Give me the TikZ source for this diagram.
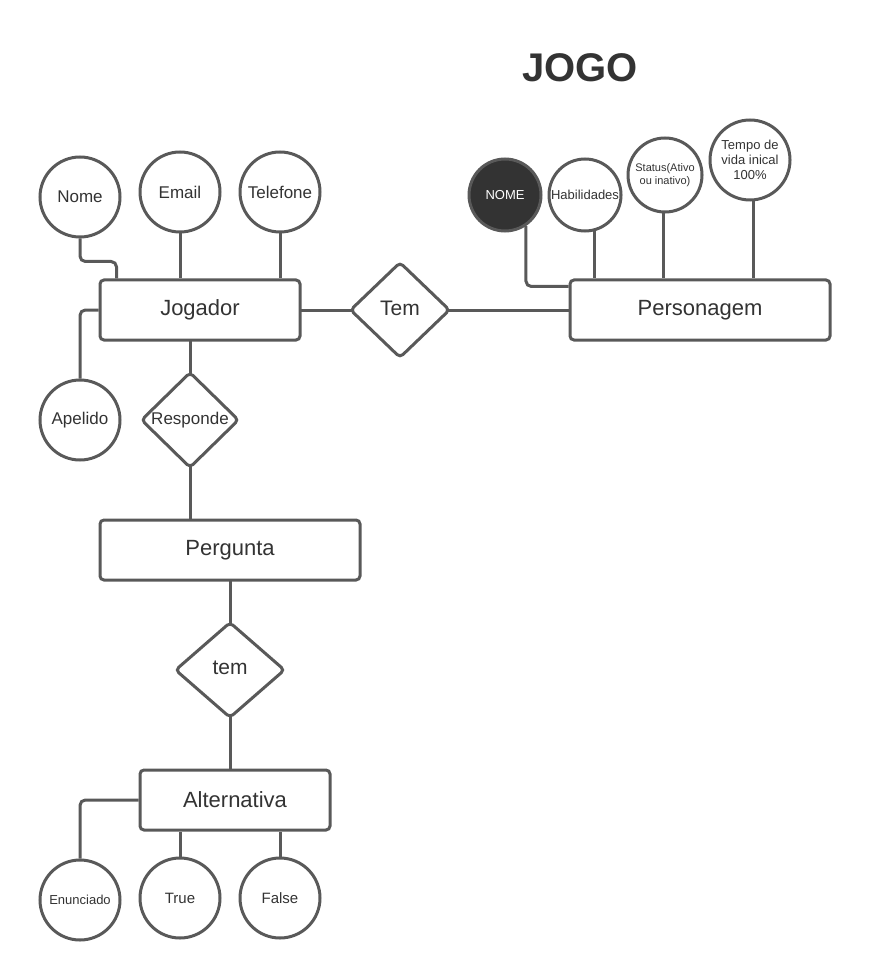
\documentclass[tikz,border=0pt]{standalone}
\usepackage{fontspec}
\setmainfont{Liberation Sans}
\usepackage{tikz}
\usetikzlibrary{shapes.geometric, positioning, calc, backgrounds}
\definecolor{linegray}{HTML}{595959}
\definecolor{textgray}{HTML}{333333}

\begin{document}
\begin{tikzpicture}
  [
    x=0.75pt, y=-0.75pt,
    Entity/.style={rectangle, draw=linegray, fill=white, line width=2.25pt, rounded corners=3pt, minimum height=45pt, text=textgray, font=\fontsize{16.5}{18}\selectfont},
    Relation/.style={diamond, draw=linegray, fill=white, line width=2.25pt, rounded corners=3pt, inner sep=0pt, minimum width=75pt, minimum height=72pt, text=textgray},
    Attr/.style={circle, draw=linegray, fill=white, line width=2.25pt, inner sep=0pt, minimum size=60pt, text=textgray, font=\fontsize{12.75}{14}\selectfont},
    Small/.style={Attr, minimum size=54pt, font=\fontsize{9.75}{11}\selectfont},
    Key/.style={Small, fill=textgray, text=white},
    Link/.style={draw=linegray, line width=2.25pt, rounded corners=4pt}
  ]
  \useasboundingbox (0,0) rectangle (870,980);

  % Title
  \node[text=textgray, font=\fontsize{30}{34}\bfseries] (title) at (580,68) {JOGO};

  % Nodes
  \node[Entity, minimum width=150pt] (jog) at (200,310) {Jogador};
  \node[Entity, minimum width=195pt] (pers) at (700,310) {Personagem};
  \node[Entity, minimum width=195pt] (perg) at (230,550) {Pergunta};
  \node[Entity, minimum width=142.5pt] (alt) at (235,800) {Alternativa};

  \node[Relation, font=\fontsize{15.75}{17}\selectfont] (tem1) at (400,310) {\raisebox{3pt}{Tem}};
  \node[Relation, minimum width=73.5pt, font=\fontsize{12.75}{14}\selectfont] (resp) at (190,420) {\raisebox{2pt}{Responde}};
  \node[Relation, minimum width=82.5pt, font=\fontsize{15.75}{17}\selectfont] (tem2) at (230,670) {\raisebox{3pt}{tem}};

  \node[Attr] (nome) at (80,197) {Nome};
  \node[Attr] (email) at (180,192) {Email};
  \node[Attr] (tel) at (280,192) {Telefone};
  \node[Attr] (apel) at (80,420) {Apelido};

  \node[Key] (nomep) at (505,195) {NOME};
  \node[Small] (hab) at (585,195) {Habilidades};
  \node[Small, minimum size=55.5pt, align=center, font=\fontsize{8.25}{10}\selectfont] (stat) at (665,175) {Status(Ativo\\ou inativo)};
  \node[Small, minimum size=60pt, align=center] (vida) at (750,160) {Tempo de\\vida inical\\100\%};

  \node[Attr, font=\fontsize{9.75}{11}\selectfont] (enun) at (80,900) {Enunciado};
  \node[Attr, font=\fontsize{11.25}{13}\selectfont] (true) at (180,898) {True};
  \node[Attr, font=\fontsize{11.25}{13}\selectfont] (false) at (280,898) {False};

  % Relationship lines (behind the nodes)
  \begin{pgfonlayer}{background}
    \path [Link] (jog.center) -- (tem1.center) -- (pers.center);
    \path [Link] (resp.center |- jog.center) -- (resp.center) -- (resp.center |- perg.center);
    \path [Link] (perg.center) -- (tem2.center) -- (tem2.center |- alt.center);
  \end{pgfonlayer}

  % Attribute lines
  \path [Link] (nome.south) -- ++(0,23) -| ([xshift=13.5pt]jog.north west);
  \path [Link] (email.south) -- (email.south |- jog.north);
  \path [Link] (tel.south) -- (tel.south |- jog.north);
  \path [Link] (jog.west) -| (apel.north);
  \path [Link] (nomep.-56) |- ([yshift=-6pt]pers.north west);
  \path [Link] (hab.-75) -- (hab.-75 |- pers.north);
  \path [Link] (stat.-92) -- (stat.-92 |- pers.north);
  \path [Link] (vida.-85) -- (vida.-85 |- pers.north);
  \path [Link] (alt.west) -| (enun.north);
  \path [Link] (true.north) -- (true.north |- alt.south);
  \path [Link] (false.north) -- (false.north |- alt.south);

\end{tikzpicture}
\end{document}
